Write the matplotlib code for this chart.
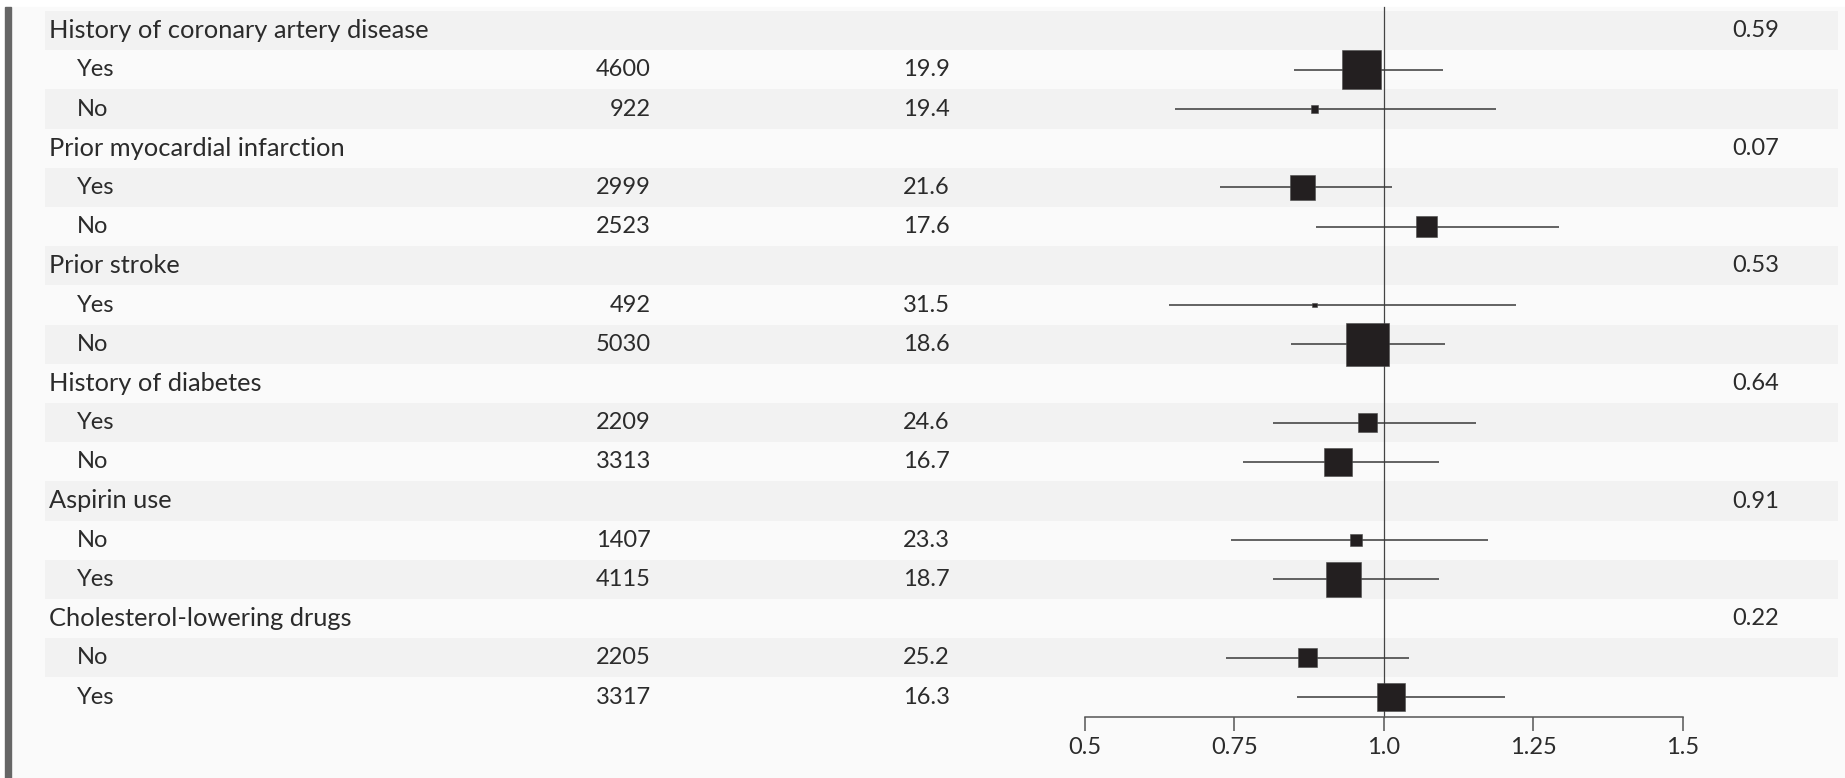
import matplotlib
matplotlib.use("Agg")
import matplotlib.pyplot as plt
from matplotlib.patches import Rectangle

plt.rcParams['font.family'] = ['Lato', 'DejaVu Sans']

# subgroup table
groups = ["History of coronary artery disease", "Prior myocardial infarction", "Prior stroke",
          "History of diabetes", "Aspirin use", "Cholesterol-lowering drugs"]
levels = [["Yes", "No"], ["Yes", "No"], ["Yes", "No"], ["Yes", "No"], ["No", "Yes"], ["No", "Yes"]]
n_pat = [4600, 922, 2999, 2523, 492, 5030, 2209, 3313, 1407, 4115, 2205, 3317]
rate = ["19.9", "19.4", "21.6", "17.6", "31.5", "18.6", "24.6", "16.7", "23.3", "18.7", "25.2", "16.3"]
p_int = ["0.59", "0.07", "0.53", "0.64", "0.91", "0.22"]

# hazard ratios with 95% CI
hr = [0.963, 0.884, 0.864, 1.071, 0.884, 0.973, 0.973, 0.924, 0.954, 0.932, 0.872, 1.012]
lo = [0.849, 0.650, 0.726, 0.886, 0.640, 0.844, 0.815, 0.765, 0.745, 0.815, 0.736, 0.854]
hi = [1.099, 1.187, 1.013, 1.294, 1.221, 1.103, 1.154, 1.093, 1.174, 1.093, 1.043, 1.203]
xticks = [0.5, 0.75, 1.0, 1.25, 1.5]
xticklabels = ["0.5", "0.75", "1.0", "1.25", "1.5"]

W, H = 1845, 778
fig = plt.figure(figsize=(W / 100, H / 100), dpi=100)
fig.patch.set_facecolor("white")

# panel background and left rule
fig.patches.append(Rectangle((11 / W, 0), 1 - 11 / W, 1 - 7 / H, transform=fig.transFigure,
                             color="#fafafa", zorder=-3))
fig.patches.append(Rectangle((5 / W, 0), 5.5 / W, 1 - 7 / H, transform=fig.transFigure,
                             color="#666666", zorder=-2))

top_px, row_h = 11, 39.2
nrows = len(groups) * 3
bottom_px = top_px + nrows * row_h
ax_bottom = 1 - bottom_px / H
ax_height = nrows * row_h / H

tab = fig.add_axes([0, ax_bottom, 1, ax_height], zorder=0)
tab.set_xlim(0, W)
tab.set_ylim(nrows - 0.5, -0.5)
tab.axis("off")

txt = dict(fontsize=17, color="#2b2b2b", va="center")
row = 0
k = 0
for g, grp in enumerate(groups):
    for j in range(3):
        if (row % 2) == 0:
            tab.axhspan(row - 0.5, row + 0.5, xmin=44.5 / W, xmax=1838 / W, color="#f2f2f2", lw=0, zorder=0)
        row += 1
    r0 = g * 3
    tab.text(49, r0, grp, ha="left", fontsize=18.3, color="#2b2b2b", va="center")
    tab.text(1779, r0, p_int[g], ha="right", **txt)
    for j, lev in enumerate(levels[g]):
        r = r0 + 1 + j
        tab.text(77, r, lev, ha="left", **txt)
        tab.text(651, r, f"{n_pat[k]}", ha="right", **txt)
        tab.text(950, r, rate[k], ha="right", **txt)
        k += 1

ax = fig.add_axes([1085 / W, ax_bottom, 597.6 / W, ax_height], zorder=1)
ax.set_facecolor("none")
ax.set_xlim(0.5, 1.5)
ax.set_ylim(nrows - 0.5, -0.5)

ypos = [g * 3 + 1 + j for g in range(len(groups)) for j in range(2)]
ax.hlines(ypos, lo, hi, color="#3a3a3a", lw=1.1, zorder=2)
ax.axvline(1.0, ymin=0, ymax=1 + 4 / (nrows * row_h), color="#444444", lw=0.9, clip_on=False, zorder=1)
# square side grows with subgroup size
side_pt = [nn * 0.0085 * 0.72 for nn in n_pat]
ax.scatter(hr, ypos, marker="s", s=[s ** 2 for s in side_pt], color="#231f20",
           edgecolors="#4a4a4a", linewidths=0.4, zorder=3)

for s in ["top", "right", "left"]:
    ax.spines[s].set_visible(False)
ax.spines["bottom"].set_color("#555555")
ax.spines["bottom"].set_linewidth(1.1)
ax.set_yticks([])
ax.set_xticks(xticks)
ax.set_xticklabels(xticklabels)
ax.tick_params(axis="x", direction="out", length=10, width=1.1, color="#555555",
               labelsize=17, labelcolor="#2b2b2b", pad=5)

fig.savefig("out.png", dpi=100, facecolor=fig.get_facecolor())
